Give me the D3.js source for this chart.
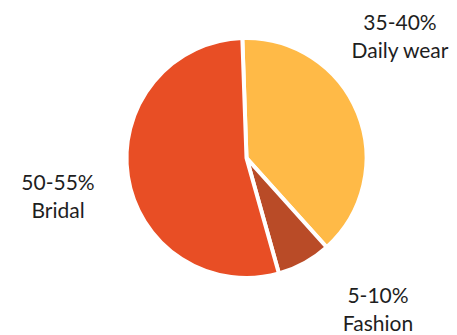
<!DOCTYPE html>
<html lang="en">
<head>
  <meta charset="utf-8">
  <title>Jewellery demand by segment</title>
  <script src="https://d3js.org/d3.v7.min.js"></script>
  <style>
    body { margin: 0; background: #fff; }
    .label { font-family: Lato, "Open Sans", sans-serif; font-size: 21px; fill: #1e1e1e; }
  </style>
</head>
<body>
  <svg width="457" height="335"></svg>
  <script>
    // shares (percent of the circle)
    var segments = ["Daily wear", "Fashion", "Bridal"];
    var shares = [38.9, 7.3, 53.8];
    var ranges = ["35-40%", "5-10%", "50-55%"];
    var colors = ["#FFBA47", "#B94B27", "#E84E25"];

    var svg = d3.select("svg"),
        cx = 246.5, cy = 158, radius = 120;

    var data = segments.map(function(s, i) {
      return {name: s, value: shares[i], range: ranges[i], color: colors[i]};
    });

    var pie = d3.pie()
        .sort(null)
        .value(function(d) { return d.value; })
        .startAngle(-2 * Math.PI / 180)
        .endAngle(358 * Math.PI / 180);

    var arc = d3.arc().innerRadius(0).outerRadius(radius);

    var g = svg.append("g").attr("transform", "translate(" + cx + "," + cy + ")");

    g.selectAll("path")
      .data(pie(data))
      .enter().append("path")
        .attr("d", arc)
        .attr("fill", function(d) { return d.data.color; })
        .attr("stroke", "#fff")
        .attr("stroke-width", 4)
        .attr("stroke-linejoin", "round");

    // label placement (Excel style, outside end)
    var labelAt = {"Daily wear": [400, 30], "Fashion": [378, 303], "Bridal": [58, 190]};

    var lab = svg.selectAll(".label")
      .data(data)
      .enter().append("text")
        .attr("class", "label")
        .attr("text-anchor", "middle")
        .attr("x", function(d) { return labelAt[d.name][0]; })
        .attr("y", function(d) { return labelAt[d.name][1]; });

    lab.append("tspan")
        .attr("x", function(d) { return labelAt[d.name][0]; })
        .text(function(d) { return d.range; });
    lab.append("tspan")
        .attr("x", function(d) { return labelAt[d.name][0]; })
        .attr("dy", 28)
        .text(function(d) { return d.name; });
  </script>
</body>
</html>
